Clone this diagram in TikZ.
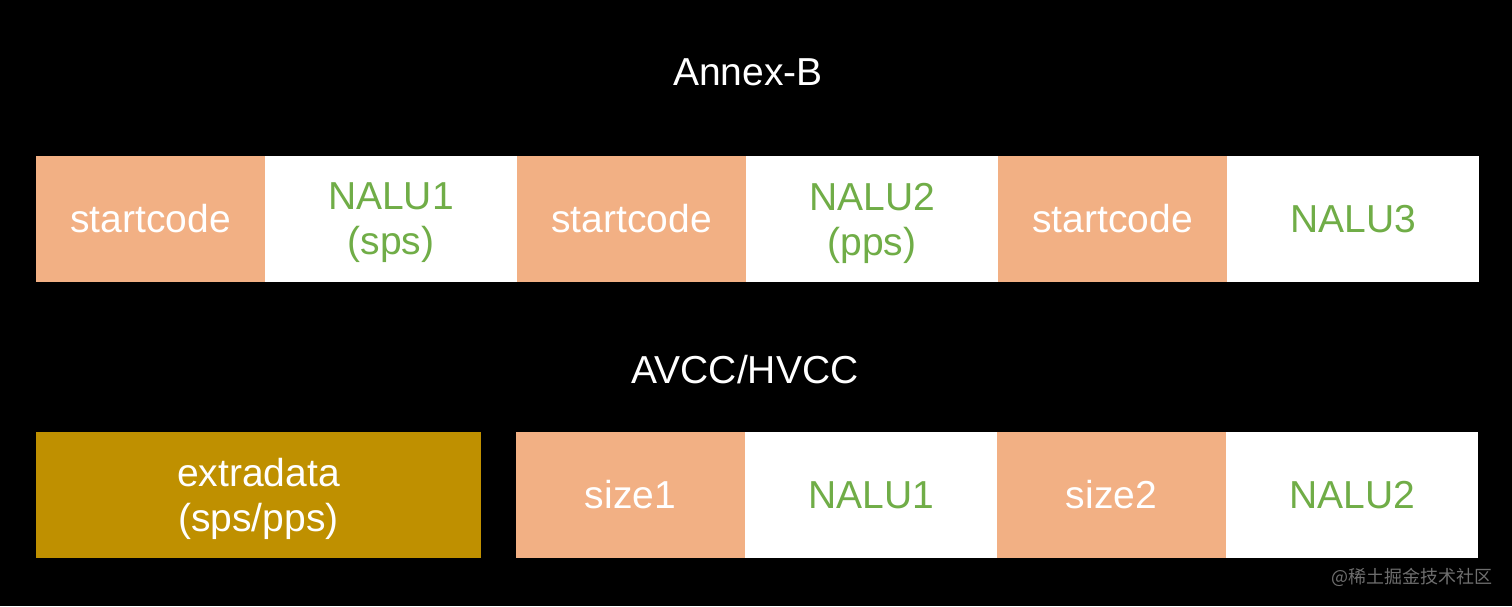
\documentclass[tikz,border=0pt]{standalone}
\usepackage{fontspec}
\setmainfont{Liberation Sans}
\newfontfamily\cjkfont{Noto Sans CJK SC}
\usetikzlibrary{positioning}

\definecolor{codeorange}{HTML}{F2B084}
\definecolor{extragold}{HTML}{BF9000}
\definecolor{nalugreen}{HTML}{70AD47}
\definecolor{markgray}{HTML}{6E6E6E}

\begin{document}
\begin{tikzpicture}[x=1pt,y=-1pt,
	every node/.style={inner sep=0pt,outer sep=0pt,align=center,
		font=\fontsize{39}{45}\selectfont},
	code node/.style={fill=codeorange,text=white,minimum width=229pt,minimum height=126pt},
	nalu node/.style={fill=white,text=nalugreen,minimum width=252pt,minimum height=126pt},
	extra node/.style={fill=extragold,text=white,minimum width=445pt,minimum height=126pt},
	two lines/.style={text depth=0pt},
	title node/.style={text=white}]
	
	% background
	\fill[black] (0,0) rectangle (1512,606);
	\useasboundingbox (0,0) rectangle (1512,606);
	
	% Annex-B
	\node[title node] (annexb) at (748,72) {Annex-B};
	\node[code node,anchor=north west] (sc1) at (36,156) {startcode};
	\node[nalu node,two lines] (nalu1) [right=0pt of sc1] {NALU1\\(sps)};
	\node[code node] (sc2) [right=0pt of nalu1] {startcode};
	\node[nalu node,two lines] (nalu2) [right=0pt of sc2] {NALU2\\(pps)};
	\node[code node] (sc3) [right=0pt of nalu2] {startcode};
	\node[nalu node] (nalu3) [right=0pt of sc3] {NALU3};
	
	% AVCC/HVCC
	\node[title node] (avcc) at (745,370) {AVCC/HVCC};
	\node[extra node,two lines,anchor=north west] (extra) at (36,432) {extradata\\(sps/pps)};
	\node[code node] (size1) [right=35pt of extra] {size1};
	\node[nalu node] (anal1) [right=0pt of size1] {NALU1};
	\node[code node] (size2) [right=0pt of anal1] {size2};
	\node[nalu node] (anal2) [right=0pt of size2] {NALU2};
	
	\node[text=markgray,font=\cjkfont\fontsize{18}{20}\selectfont] (mark) at (1412,577) {@稀土掘金技术社区};
\end{tikzpicture}
\end{document}
